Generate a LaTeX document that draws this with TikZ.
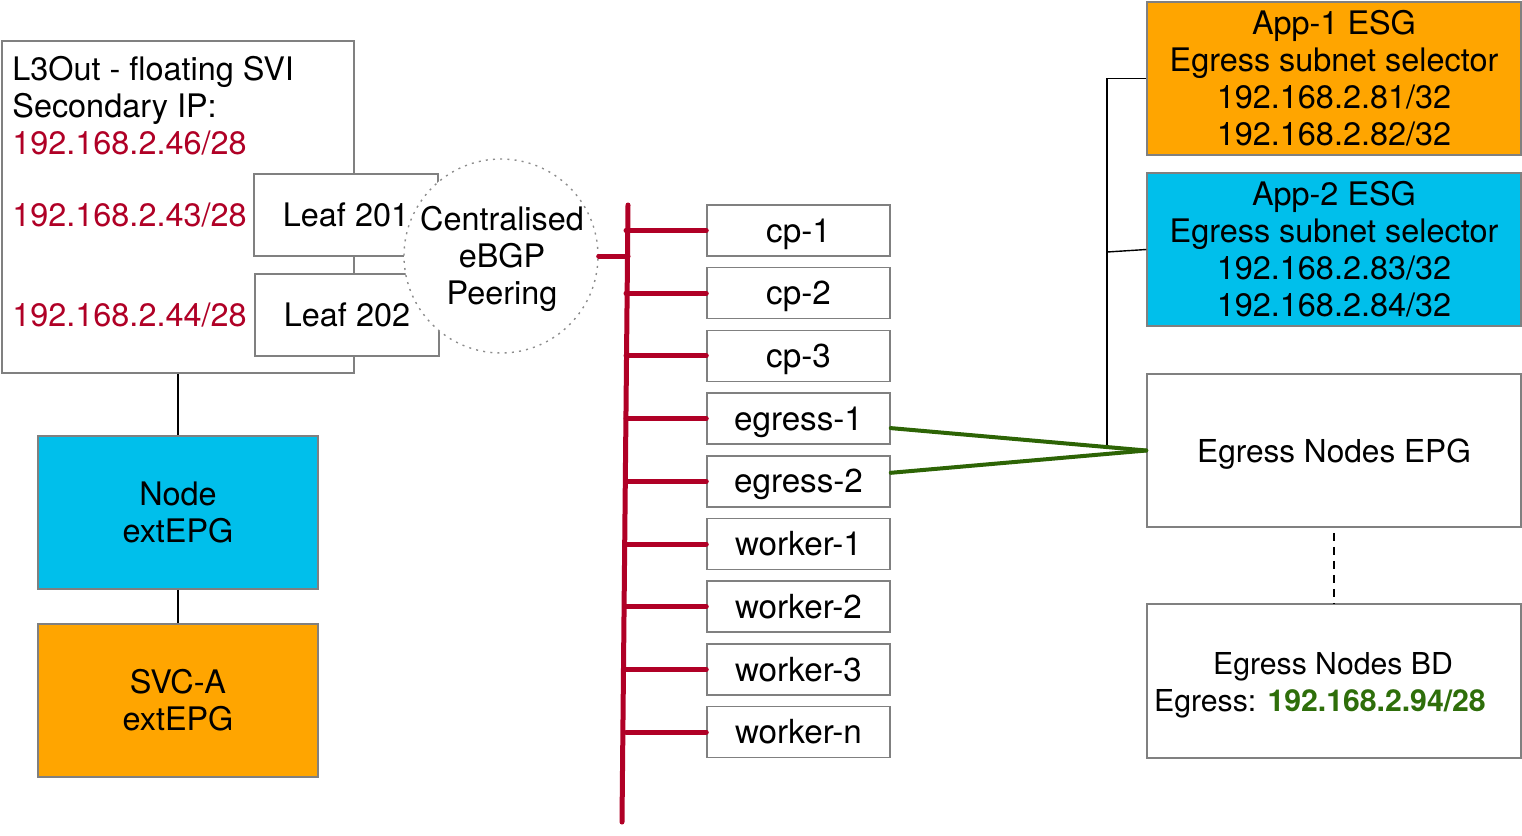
\documentclass[tikz,border=0pt]{standalone}
\usepackage{fontspec}
\setmainfont{TeX Gyre Heros}
\usetikzlibrary{calc}
\definecolor{boxgray}{RGB}{128,128,128}
\definecolor{cyanfill}{RGB}{0,191,235}
\definecolor{orangefill}{RGB}{255,165,0}
\definecolor{busred}{RGB}{176,0,38}
\definecolor{linkgreen}{RGB}{45,100,5}
\definecolor{txtgreen}{RGB}{46,110,10}
\definecolor{dotgray}{RGB}{140,140,140}
\begin{document}
\begin{tikzpicture}[x=0.5pt,y=-0.5pt,
  font=\fontsize{16.2}{18.5}\selectfont,
  sz/.style n args={2}{minimum width=#1*0.5pt, minimum height=#2*0.5pt},
  box/.style={draw=boxgray, line width=0.75pt, rectangle, inner sep=0pt, fill=white},
  one/.style={text height=12pt, text depth=0.4pt},
  host/.style={font=\fontsize{16.6}{18.5}\selectfont},
  bus/.style={draw=busred, line width=2.5pt, line cap=round},
  glink/.style={draw=linkgreen, line width=2pt, line cap=round},
  blk/.style={draw=black, line width=0.7pt},
  redtxt/.style={text=busred, anchor=base west, inner sep=0pt},
  blktxt/.style={text=black, anchor=base west, inner sep=0pt}
]
\useasboundingbox (0,0) rectangle (1522,836);

% left side
\node[box, sz={352}{332}] (l3out) at (178,207) {};
\node[blktxt] (t1) at (12,80) {L3Out - floating SVI};
\node[blktxt] (t2) at (12,117) {Secondary IP:};
\node[redtxt] (ip46) at (12,154) {192.168.2.46/28};
\node[redtxt] (ip43) at (12,226) {192.168.2.43/28};
\node[redtxt] (ip44) at (12,326) {192.168.2.44/28};
\node[box, sz={184}{82}, one] (leaf1) at (346,215) {Leaf 201};
\node[box, sz={184}{82}, one] (leaf2) at (347,315) {Leaf 202};
\node[circle, draw=dotgray, line width=0.7pt, dash pattern=on 1pt off 2.6pt,
      fill=white, minimum size=194*0.5pt, inner sep=0pt] (peer) at (501,256) {};
\node[align=center, inner sep=0pt] (peertxt) at (502,259) {Centralised\\eBGP\\Peering};

\node[box, fill=cyanfill, sz={280}{153}, align=center] (nodeepg) at (178,512.5) {Node\\extEPG};
\node[box, fill=orangefill, sz={280}{153}, align=center] (svca) at (178,700.5) {SVC-A\\extEPG};
\draw[blk] (l3out.south) -- (nodeepg.north);
\draw[blk] (nodeepg.south) -- (svca.north);

% bus and hosts
\coordinate (bustop) at (628,205);
\coordinate (busbot) at (622,822);
\coordinate (busmid) at (626,500);
\foreach \n/\t [count=\i from 0] in {cp1/cp-1,cp2/cp-2,cp3/cp-3,eg1/egress-1,eg2/egress-2,w1/worker-1,w2/worker-2,w3/worker-3,wn/worker-n}{
  \node[box, sz={183}{51}, one, host] (\n) at (798.5,{230.5+62.7*\i}) {\t};
}
\draw[bus] (bustop) -- (busbot);
\draw[bus] (peer.east) -- (peer.east -| bustop);
\foreach \n in {cp1,cp2,cp3,eg1,eg2,w1,w2,w3,wn}{
  \draw[bus] (\n.west) -- (\n.west -| busmid);
}

% right side
\node[box, fill=orangefill, sz={374}{153}, align=center] (app1) at (1334,78.5)
  {App-1 ESG\\Egress subnet selector\\192.168.2.81/32\\192.168.2.82/32};
\node[box, fill=cyanfill, sz={374}{153}, align=center] (app2) at (1334,249.5)
  {App-2 ESG\\Egress subnet selector\\192.168.2.83/32\\192.168.2.84/32};
\node[box, sz={374}{153}, one, font=\fontsize{15.8}{18.5}\selectfont] (epg) at (1334,450.5) {Egress Nodes EPG};
\node[box, sz={374}{154}] (bd) at (1334,681) {};
\node[inner sep=0pt, anchor=base, font=\fontsize{15.1}{18.5}\selectfont] (bd1) at (1333,674) {Egress Nodes BD};
\node[inner sep=0pt, anchor=base, font=\fontsize{15.1}{18.5}\selectfont] (bd2) at (1320,711) {Egress: \textbf{\textcolor{txtgreen}{192.168.2.94/28}}};

\coordinate (j) at (1107,447);
\coordinate (j2) at (1107,252);
\draw[blk] (j) |- (app1.west);
\draw[blk] (j2) -- (app2.west);
\draw[glink] ($(eg1.east)+(0,9.5)$) -- (epg.west);
\draw[glink] ($(eg2.east)+(0,-8.5)$) -- (epg.west);
\draw[blk, dash pattern=on 4pt off 3pt] ($(epg.south)+(0,5)$) -- (bd.north);
\end{tikzpicture}
\end{document}
